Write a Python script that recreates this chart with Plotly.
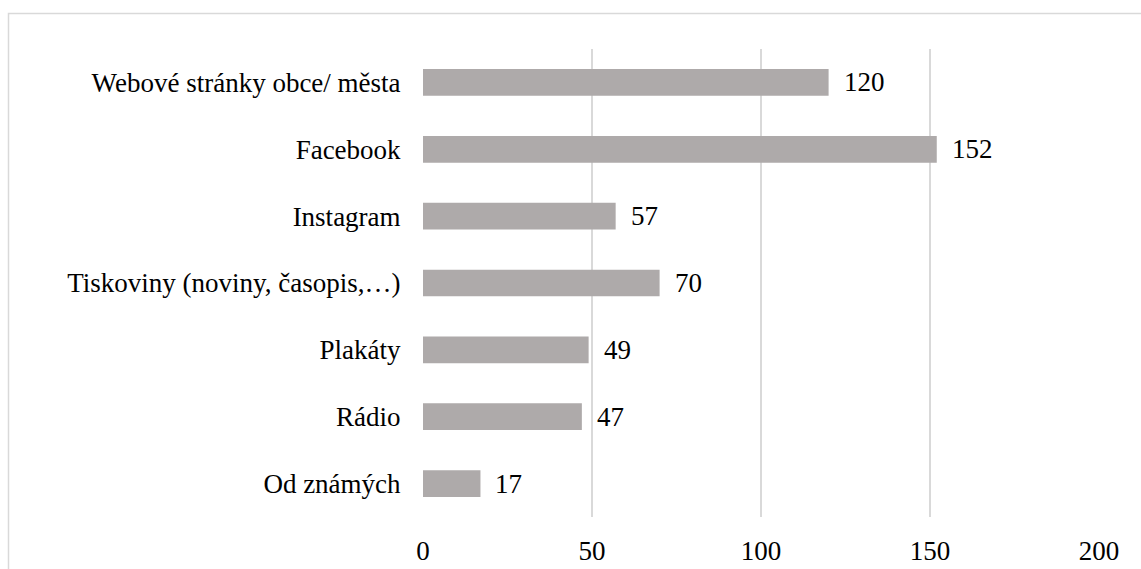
import plotly.graph_objects as go

categories = ["Webové stránky obce/ města", "Facebook", "Instagram",
              "Tiskoviny (noviny, časopis,…)", "Plakáty", "Rádio", "Od známých"]
values = [120, 152, 57, 70, 49, 47, 17]
x_ticks = [0, 50, 100, 150, 200]

FONT = "'Liberation Serif', 'Times New Roman', serif"
FS = 27
W, H = 1141, 569
L, R, T, B = 423, 42, 49, 52
pw, ph = W - L - R, H - T - B

fig = go.Figure(go.Bar(
    x=values, y=categories, orientation="h",
    marker=dict(color="#AEAAAA", line=dict(width=0)),
    width=0.4, hoverinfo="x+y",
))

for c, v in zip(categories, values):
    fig.add_annotation(x=v, y=c, text=str(v), showarrow=False,
                       xanchor="left", yanchor="middle", xshift=13,
                       font=dict(family=FONT, size=FS, color="#000000"))

def px_x(p):
    return (p - L) / pw

def px_y(p):
    return (H - B - p) / ph

fig.add_shape(type="rect", xref="paper", yref="paper",
              x0=px_x(8.5), x1=px_x(1160), y0=px_y(590), y1=px_y(13.5),
              line=dict(color="#D9D9D9", width=1.5), fillcolor="rgba(0,0,0,0)",
              layer="below")

fig.update_layout(
    width=W, height=H,
    margin=dict(l=L, r=R, t=T, b=B, autoexpand=False),
    paper_bgcolor="white", plot_bgcolor="white",
    font=dict(family=FONT, size=FS, color="#000000"),
    showlegend=False,
    bargap=0.6,
    xaxis=dict(range=[0, 200], tickvals=x_ticks, ticktext=[str(t) for t in x_ticks],
               showgrid=True, gridcolor="#D9D9D9", gridwidth=1.5,
               zeroline=False, showline=False, ticks="outside", ticklen=10,
               tickcolor="rgba(0,0,0,0)", automargin=False,
               tickfont=dict(family=FONT, size=FS, color="#000000"),
               fixedrange=True),
    yaxis=dict(autorange="reversed", showgrid=False, zeroline=False,
               showline=False, ticks="outside", ticklen=16, tickcolor="rgba(0,0,0,0)",
               automargin=False,
               tickfont=dict(family=FONT, size=FS, color="#000000"),
               fixedrange=True),
)

fig.write_html("out.html")
